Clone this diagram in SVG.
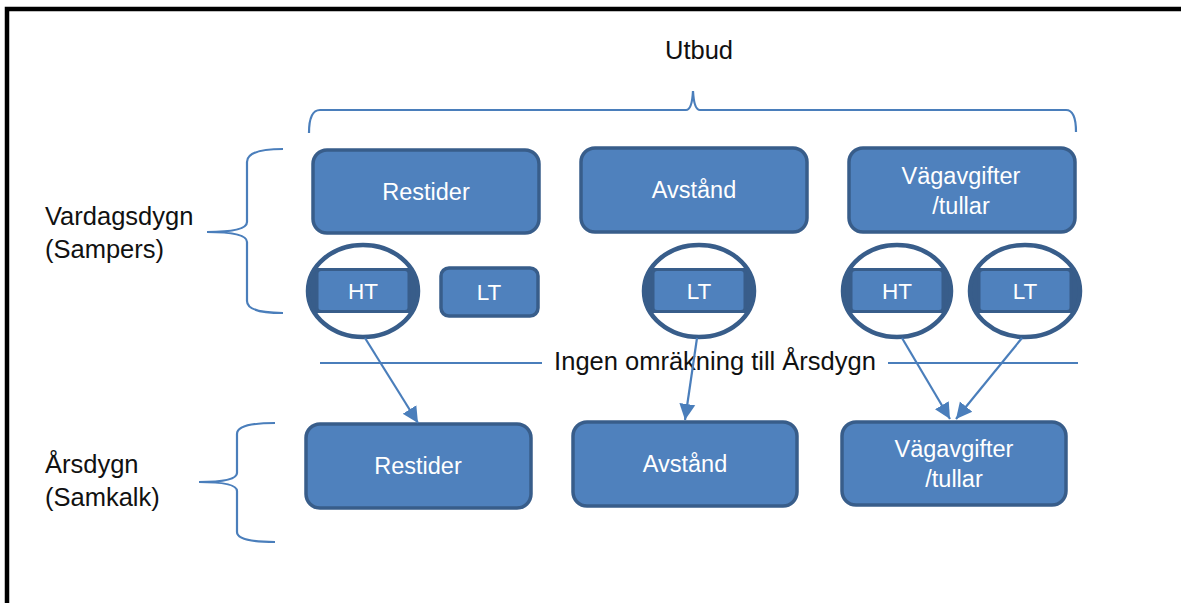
<svg xmlns="http://www.w3.org/2000/svg" width="1181" height="603" viewBox="0 0 1181 603">
  <style>
    .box { fill: #4f81bd; stroke: #385d8a; stroke-width: 3.5; }
    .inner { fill: #4f81bd; stroke: #385d8a; stroke-width: 3; }
    .band { fill: #385d8a; }
    .ring { fill: none; stroke: #385d8a; stroke-width: 4.5; }
    .btxt { font-family: "Liberation Sans", Arial, sans-serif; font-size: 23.5px; fill: #ffffff; text-anchor: middle; }
    .stxt { font-family: "Liberation Sans", Arial, sans-serif; font-size: 22.5px; fill: #ffffff; text-anchor: middle; }
    .lbl { font-family: "Liberation Sans", Arial, sans-serif; font-size: 25.5px; fill: #111111; }
    .brace { fill: none; stroke: #4a7ebb; stroke-width: 2.2; }
    .sep { stroke: #4a7ebb; stroke-width: 2; }
    .arrow { stroke: #4a7ebb; stroke-width: 2.2; fill: none; marker-end: url(#head); }
  </style>
  <defs>
    <marker id="head" markerUnits="userSpaceOnUse" markerWidth="18" markerHeight="18" viewBox="0 0 18 18" refX="16" refY="9" orient="auto">
      <path d="M0,1 L16,9 L0,17 Z" fill="#4a7ebb"/>
    </marker>
    <clipPath id="c-ht1"><ellipse cx="363" cy="291" rx="55" ry="46"/></clipPath>
    <clipPath id="c-lt2"><ellipse cx="699" cy="291" rx="55" ry="46"/></clipPath>
    <clipPath id="c-ht3"><ellipse cx="897" cy="291" rx="54" ry="46"/></clipPath>
    <clipPath id="c-lt3"><ellipse cx="1025" cy="291" rx="55" ry="46"/></clipPath>
  </defs>

  <rect width="1181" height="603" fill="#ffffff"/>
  <!-- frame -->
  <path d="M7,603 L7,9 L1181,9" fill="none" stroke="#000000" stroke-width="4.5"/>

  <!-- headings and side labels -->
  <text class="lbl" x="699" y="59" text-anchor="middle" font-size="27">Utbud</text>
  <text class="lbl" x="45" y="225">Vardagsdygn</text>
  <text class="lbl" x="45" y="258">(Sampers)</text>
  <text class="lbl" x="45" y="473">Årsdygn</text>
  <text class="lbl" x="45" y="506">(Samkalk)</text>
  <text class="lbl" x="715" y="370" text-anchor="middle" font-size="22.5">Ingen omräkning till Årsdygn</text>

  <!-- braces and separator -->
  <g id="braces">
    <path class="brace" d="M309,133 Q309,110 320,110 L686,110 Q692,110 693,91 Q694,110 700,110 L1066,110 Q1076,110 1076,132"/>
    <path class="brace" d="M283,149 Q247,149 247,162 L247,222 Q247,232 207,232 Q247,232 247,242 L247,301 Q247,313 283,313"/>
    <path class="brace" d="M275,423 Q237,423 237,434 L237,473 Q237,482 199,482 Q237,482 237,491 L237,532 Q237,542 275,542"/>
    <line class="sep" x1="320" y1="363" x2="542" y2="363"/>
    <line class="sep" x1="888" y1="363" x2="1078" y2="363"/>
  </g>

  <!-- upper row: Vardagsdygn -->
  <g id="restider-vardag">
    <rect class="box" x="313" y="150" width="226" height="83" rx="14"/>
    <text class="btxt" x="426" y="200">Restider</text>
  </g>
  <g id="avstand-vardag">
    <rect class="box" x="581" y="148" width="226" height="84" rx="14"/>
    <text class="btxt" x="694" y="198">Avstånd</text>
  </g>
  <g id="vagavgifter-vardag">
    <rect class="box" x="849" y="148" width="226" height="84" rx="14"/>
    <text class="btxt" x="961" y="184">Vägavgifter</text>
    <text class="btxt" x="961" y="214">/tullar</text>
  </g>

  <g id="ht-restider">
    <rect class="band" x="308" y="268" width="110" height="45" clip-path="url(#c-ht1)"/>
    <rect class="inner" x="317" y="269.5" width="92" height="42" rx="4"/>
    <ellipse class="ring" cx="363" cy="291" rx="55" ry="46"/>
    <text class="stxt" x="363" y="299">HT</text>
  </g>
  <g id="lt-restider">
    <rect class="box" x="441" y="268" width="97" height="48" rx="8"/>
    <text class="stxt" x="489" y="300">LT</text>
  </g>
  <g id="lt-avstand">
    <rect class="band" x="644" y="268" width="110" height="45" clip-path="url(#c-lt2)"/>
    <rect class="inner" x="653" y="269.5" width="92" height="42" rx="4"/>
    <ellipse class="ring" cx="699" cy="291" rx="55" ry="46"/>
    <text class="stxt" x="699" y="299">LT</text>
  </g>
  <g id="ht-vagavgifter">
    <rect class="band" x="843" y="268" width="108" height="45" clip-path="url(#c-ht3)"/>
    <rect class="inner" x="851" y="269.5" width="92" height="42" rx="4"/>
    <ellipse class="ring" cx="897" cy="291" rx="54" ry="46"/>
    <text class="stxt" x="897" y="299">HT</text>
  </g>
  <g id="lt-vagavgifter">
    <rect class="band" x="970" y="268" width="110" height="45" clip-path="url(#c-lt3)"/>
    <rect class="inner" x="979" y="269.5" width="92" height="42" rx="4"/>
    <ellipse class="ring" cx="1025" cy="291" rx="55" ry="46"/>
    <text class="stxt" x="1025" y="299">LT</text>
  </g>

  <!-- lower row: Årsdygn -->
  <g id="restider-ar">
    <rect class="box" x="306" y="424" width="225" height="84" rx="14"/>
    <text class="btxt" x="418" y="474">Restider</text>
  </g>
  <g id="avstand-ar">
    <rect class="box" x="573" y="422" width="224" height="84" rx="14"/>
    <text class="btxt" x="685" y="472">Avstånd</text>
  </g>
  <g id="vagavgifter-ar">
    <rect class="box" x="842" y="422" width="224" height="83" rx="14"/>
    <text class="btxt" x="954" y="457">Vägavgifter</text>
    <text class="btxt" x="954" y="487">/tullar</text>
  </g>

  <!-- connectors -->
  <g id="connectors">
    <line class="arrow" x1="365" y1="338" x2="418" y2="423"/>
    <line class="arrow" x1="697" y1="338" x2="685" y2="420"/>
    <line class="arrow" x1="902" y1="338" x2="950" y2="419"/>
    <line class="arrow" x1="1022" y1="338" x2="956" y2="419"/>
  </g>
</svg>
